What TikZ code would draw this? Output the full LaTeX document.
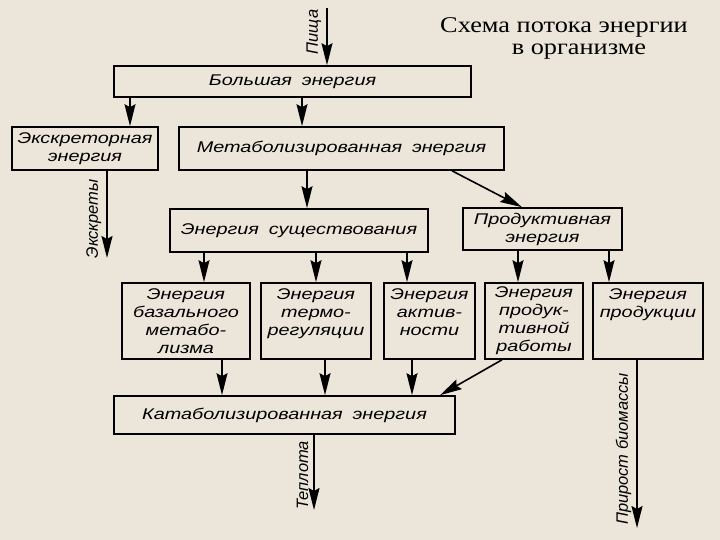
\documentclass[tikz,border=0pt]{standalone}
\usepackage{fontspec}
\usetikzlibrary{arrows.meta}
\newfontfamily\boxfont{Liberation Sans}[FakeStretch=1.28,WordSpace=1.8]
\newfontfamily\sidefont{Liberation Sans}
\newfontfamily\titlefont{Liberation Serif}[FakeStretch=1.17]
\definecolor{paper}{RGB}{236,230,218}
\begin{document}
\begin{tikzpicture}[x=1pt,y=-1pt,
    box/.style={draw, line width=1.6pt, font=\boxfont\itshape\fontsize{15.5}{18}\selectfont, align=center, inner sep=2pt},
    flow/.style={line width=1.6pt, -{Stealth[length=22pt,width=11pt,inset=3pt]}},
    side/.style={font=\sidefont\itshape\fontsize{16.5}{18}\selectfont, rotate=90, anchor=south, inner sep=5pt}]
                % paper
                \fill[paper] (0,0) rectangle (720,540);
                \useasboundingbox (0,0) rectangle (720,540);

                \node[font=\titlefont\fontsize{22.5}{22}\selectfont, align=center, anchor=north] (title) at (564,14) {Схема потока энергии\\\hspace*{30pt}в организме};

                % upper boxes
                \node[box, minimum width=357, minimum height=31] (big) at (292.5,81.5) {Большая энергия};
                \node[box, minimum width=146, minimum height=43] (excr) at (85,148.5) {Экскреторная\\энергия};
                \node[box, minimum width=325, minimum height=43] (metab) at (341.5,148.5) {Метаболизированная энергия};
                \node[box, minimum width=258, minimum height=43] (exist) at (299,230.5) {Энергия существования};
                \node[box, minimum width=159, minimum height=42] (prod) at (542.5,229) {Продуктивная\\энергия};

                % lower boxes
                \node[box, minimum width=128, minimum height=76] (basal) at (186,321) {Энергия\\базального\\метабо-\\лизма};
                \node[box, minimum width=110, minimum height=76] (thermo) at (316,321) {Энергия\\термо-\\регуляции\\~};
                \node[box, minimum width=91, minimum height=76] (activ) at (429.5,321) {Энергия\\актив-\\ности\\~};
                \node[box, minimum width=98, minimum height=76] (work) at (534,321) {Энергия\\продук-\\тивной\\работы};
                \node[box, minimum width=110, minimum height=76] (output) at (648,321) {Энергия\\продукции\\~\\~};
                \node[box, minimum width=341, minimum height=38] (catab) at (284.5,415) {Катаболизированная энергия};

                % free ends
                \coordinate (food) at (327,8);
                \coordinate (excreta) at (107,258);
                \coordinate (heat) at (314,510);
                \coordinate (biomass) at (637,528);

                % flows
                \draw[flow] (food) -- (big.north -| food) node[side, pos=0.42] {Пища};
                \draw[flow] (big.south -| 130,0) -- (excr.north -| 130,0);
                \draw[flow] (big.south -| 302,0) -- (metab.north -| 302,0);
                \draw[flow] (excr.south -| excreta) -- (excreta) node[side, pos=0.55] {Экскреты};
                \draw[flow] (metab.south -| 307,0) -- (exist.north -| 307,0);
                \draw[flow] (metab.south -| 452,0) -- (prod.north -| 522,0);

                \draw[flow] (exist.south -| 204,0) -- (basal.north -| 204,0);
                \draw[flow] (exist.south -| 316,0) -- (thermo.north -| 316,0);
                \draw[flow] (exist.south -| 407,0) -- (activ.north -| 407,0);
                \draw[flow] (prod.south -| 518,0) -- (work.north -| 518,0);
                \draw[flow] (prod.south -| 609,0) -- (output.north -| 609,0);

                \draw[flow] (basal.south -| 222,0) -- (catab.north -| 222,0);
                \draw[flow] (thermo.south -| 325,0) -- (catab.north -| 325,0);
                \draw[flow] (activ.south -| 412,0) -- (catab.north -| 412,0);
                \draw[flow] (work.south -| 502,0) -- (catab.north -| 440,0);

                \draw[flow] (catab.south -| heat) -- (heat) node[side, pos=0.54] {Теплота};
                \draw[flow] (output.south -| biomass) -- (biomass) node[side, pos=0.53] {Прирост биомассы};

            \end{tikzpicture}
\end{document}
